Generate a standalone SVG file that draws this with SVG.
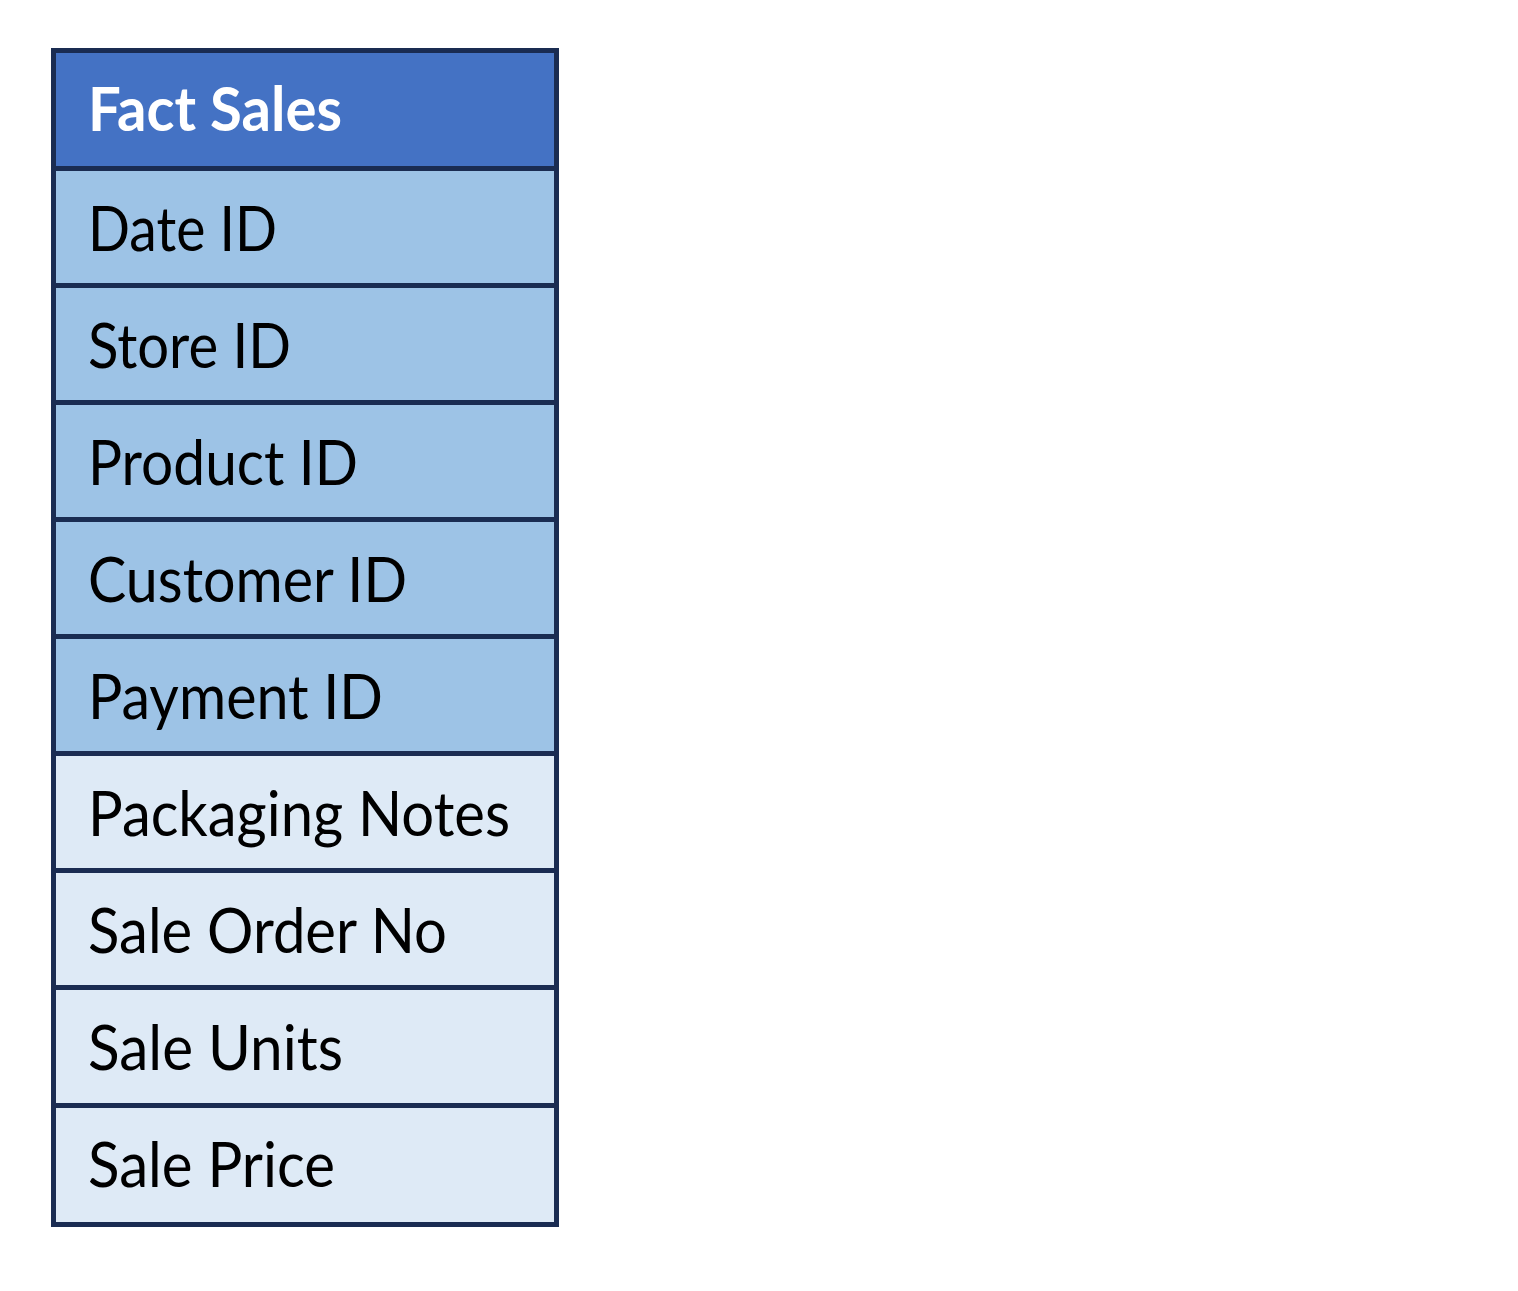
<svg xmlns="http://www.w3.org/2000/svg" width="1518" height="1291" viewBox="0 0 1518 1291">
<style>
.cell{stroke:#1A2C52;stroke-width:5}
.hdr{fill:#4472C4}
.key{fill:#9DC3E6}
.att{fill:#DEEAF6}
.t{font-family:Lato,"Open Sans","Liberation Sans",sans-serif;font-size:61px;fill:#000}
.th{font-family:Lato,"Open Sans","Liberation Sans",sans-serif;font-size:61px;font-weight:bold;fill:#fff}
</style>
<rect width="1518" height="1291" fill="#fff"/>
<g id="fact-sales">
<g id="header"><rect class="cell hdr" x="53.5" y="50.5" width="503" height="118"/><text class="th" x="88" y="131" textLength="254" lengthAdjust="spacingAndGlyphs">Fact Sales</text></g>
<g id="row-date"><rect class="cell key" x="53.5" y="168.5" width="503" height="117"/><text class="t" x="88" y="251" textLength="189" lengthAdjust="spacingAndGlyphs">Date ID</text></g>
<g id="row-store"><rect class="cell key" x="53.5" y="285.5" width="503" height="117"/><text class="t" x="88" y="368" textLength="203" lengthAdjust="spacingAndGlyphs">Store ID</text></g>
<g id="row-product"><rect class="cell key" x="53.5" y="402.5" width="503" height="117"/><text class="t" x="88" y="485" textLength="270" lengthAdjust="spacingAndGlyphs">Product ID</text></g>
<g id="row-customer"><rect class="cell key" x="53.5" y="519.5" width="503" height="117"/><text class="t" x="88" y="602" textLength="319" lengthAdjust="spacingAndGlyphs">Customer ID</text></g>
<g id="row-payment"><rect class="cell key" x="53.5" y="636.5" width="503" height="117"/><text class="t" x="88" y="719" textLength="295" lengthAdjust="spacingAndGlyphs">Payment ID</text></g>
<g id="row-packaging"><rect class="cell att" x="53.5" y="753.5" width="503" height="117"/><text class="t" x="88" y="836" textLength="422" lengthAdjust="spacingAndGlyphs">Packaging Notes</text></g>
<g id="row-order"><rect class="cell att" x="53.5" y="870.5" width="503" height="117"/><text class="t" x="88" y="953" textLength="359" lengthAdjust="spacingAndGlyphs">Sale Order No</text></g>
<g id="row-units"><rect class="cell att" x="53.5" y="987.5" width="503" height="118"/><text class="t" x="88" y="1070" textLength="255" lengthAdjust="spacingAndGlyphs">Sale Units</text></g>
<g id="row-price"><rect class="cell att" x="53.5" y="1105.5" width="503" height="119"/><text class="t" x="88" y="1187" textLength="247" lengthAdjust="spacingAndGlyphs">Sale Price</text></g>
</g>
<g id="connectors"></g>
</svg>
